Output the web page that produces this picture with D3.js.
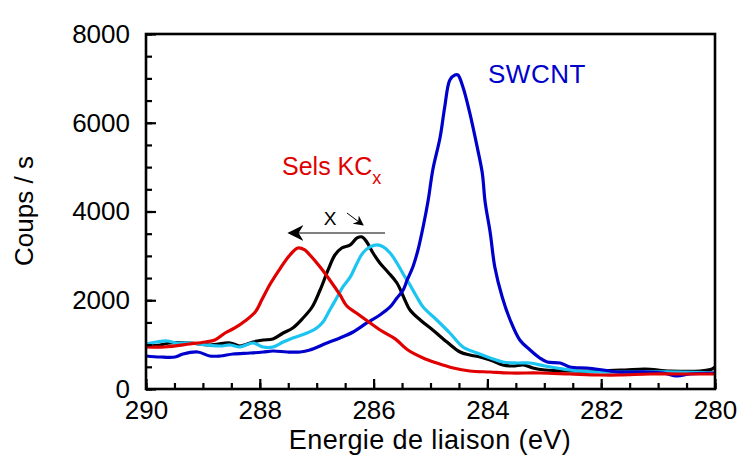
<!DOCTYPE html>
<html>
<head>
<meta charset="utf-8">
<script src="https://cdn.jsdelivr.net/npm/d3@7"></script>
<style>
  html, body { margin: 0; padding: 0; background: #fff; }
  svg { display: block; font-family: Arial, "Liberation Sans", sans-serif; }
</style>
</head>
<body>
<svg id="chart" width="744" height="456"></svg>
<script>
// ---- data (binding energy in eV, counts/s) ----
const xTicks = [290, 288, 286, 284, 282, 280];
const yTicks = [0, 2000, 4000, 6000, 8000];

const swcntE = [290.00,289.75,289.49,289.35,289.09,288.88,288.70,288.47,288.17,287.94,287.77,287.52,287.29,287.12,286.82,286.59,286.36,286.12,285.89,285.71,285.59,285.48,285.41,285.31,285.22,285.13,285.04,284.96,284.83,284.75,284.66,284.57,284.52,284.43,284.31,284.18,284.09,284.04,283.95,283.87,283.74,283.60,283.43,283.25,283.08,282.95,282.72,282.55,282.25,281.97,281.72,281.20,280.91,280.67,280.44,280.00];
const swcntC = [744,721,721,789,834,744,744,789,811,834,856,834,834,879,1037,1150,1285,1488,1668,1848,2051,2231,2457,2750,3133,3651,4260,4936,5680,6356,6965,7078,7078,6807,6221,5455,4869,4215,3516,2750,2074,1555,1104,879,699,609,586,496,473,428,383,383,361,293,338,361];

const cyanE = [290.00,289.81,289.63,289.46,289.23,288.93,288.70,288.52,288.35,288.12,287.94,287.77,287.59,287.42,287.17,287.00,286.89,286.77,286.64,286.54,286.41,286.29,286.19,286.06,285.94,285.83,285.71,285.59,285.48,285.36,285.24,285.13,284.89,284.66,284.43,284.18,283.95,283.73,283.48,283.25,282.99,282.55,282.02,281.32,280.62,280.00];
const cyanC = [1014,1059,1082,1037,1037,992,969,992,947,1037,947,947,1059,1150,1262,1375,1510,1781,2074,2299,2525,2840,3065,3201,3246,3201,3065,2840,2592,2344,2074,1848,1555,1262,947,811,699,609,586,586,518,428,383,383,383,361];

const blackE = [290.00,289.75,289.58,289.23,288.88,288.52,288.35,288.12,287.94,287.77,287.59,287.42,287.24,287.08,286.94,286.80,286.68,286.56,286.41,286.29,286.20,286.12,286.01,285.89,285.75,285.59,285.45,285.36,285.18,284.96,284.71,284.48,284.31,284.13,283.95,283.73,283.55,283.37,283.20,282.99,282.55,282.02,281.58,281.23,280.79,280.26,280.05,280.00];
const blackC = [969,992,1037,1037,992,1037,969,1059,1104,1127,1262,1375,1600,1848,2231,2682,3020,3178,3246,3404,3426,3313,3065,2840,2637,2389,2006,1781,1555,1330,1059,834,766,721,654,541,518,541,473,428,406,406,428,451,406,406,451,496];

const redE = [290.00,289.67,289.23,288.96,288.79,288.61,288.44,288.26,288.08,287.96,287.82,287.64,287.47,287.33,287.21,287.12,286.94,286.77,286.59,286.47,286.29,286.06,285.83,285.62,285.41,285.13,284.89,284.60,284.31,283.95,283.60,283.08,282.55,282.02,281.67,281.14,280.62,280.00];
const redC = [947,947,1014,1059,1104,1262,1375,1533,1735,2020,2360,2720,3020,3178,3133,3020,2750,2457,2119,1870,1700,1488,1285,1130,890,699,586,473,406,383,361,361,338,316,316,338,338,338];

// ---- layout ----
const svg = d3.select("#chart");
const L = 146, R = 715, T = 34, B = 389;
const x = d3.scaleLinear().domain([290, 280]).range([L, R]);
const y = d3.scaleLinear().domain([0, 8000]).range([B, T]);

const line = d3.line().x(d => x(d[0])).y(d => y(d[1])).curve(d3.curveCatmullRom.alpha(0.5));
const zip = (a, b) => a.map((v, i) => [v, b[i]]);

const series = [
  { data: zip(blackE, blackC), color: "#000000" },
  { data: zip(cyanE, cyanC), color: "#1cc4f2" },
  { data: zip(swcntE, swcntC), color: "#0000cc" },
  { data: zip(redE, redC), color: "#e10000" }
];

const defs = svg.append("defs");
defs.append("clipPath").attr("id", "clip")
  .append("rect").attr("x", L).attr("y", T).attr("width", R - L).attr("height", B - T);

const g = svg.append("g").attr("clip-path", "url(#clip)");
series.forEach(s => {
  g.append("path").attr("d", line(s.data))
    .attr("fill", "none").attr("stroke", s.color)
    .attr("stroke-width", 3.2).attr("stroke-linejoin", "round").attr("stroke-linecap", "round");
});

// ---- axes (ticks inside) ----
const xMinor = d3.range(290, 279.99, -0.5);
const yMinor = d3.range(0, 8001, 500);

const xAxisMinor = d3.axisBottom(x).tickValues(xMinor).tickSize(-6).tickFormat("");
const xAxisMajor = d3.axisBottom(x).tickValues(xTicks).tickSize(-10).tickPadding(12).tickFormat(d3.format("d"));
const yAxisMinor = d3.axisLeft(y).tickValues(yMinor).tickSize(-6).tickFormat("");
const yAxisMajor = d3.axisLeft(y).tickValues(yTicks).tickSize(-10).tickPadding(16).tickFormat(d3.format("d"));

function styleAxis(sel) {
  sel.select(".domain").remove();
  sel.selectAll("line").attr("stroke", "#000").attr("stroke-width", 2.2);
  sel.selectAll("text").attr("fill", "#000").attr("font-size", 26)
     .attr("font-family", "Arial, 'Liberation Sans', sans-serif");
}
svg.append("g").attr("transform", `translate(0,${B})`).call(xAxisMinor).call(styleAxis);
svg.append("g").attr("transform", `translate(0,${B})`).call(xAxisMajor).call(styleAxis);
svg.append("g").attr("transform", `translate(${L},0)`).call(yAxisMinor).call(styleAxis);
svg.append("g").attr("transform", `translate(${L},0)`).call(yAxisMajor).call(styleAxis);

// frame
svg.append("rect").attr("x", L).attr("y", T).attr("width", R - L).attr("height", B - T)
  .attr("fill", "none").attr("stroke", "#000").attr("stroke-width", 2.6);

// axis titles
svg.append("text").attr("x", 430).attr("y", 449).attr("text-anchor", "middle")
  .attr("font-size", 27).attr("letter-spacing", 0.4).attr("fill", "#000").text("Energie de liaison (eV)");
svg.append("text").attr("transform", "translate(33,211) rotate(-90)").attr("text-anchor", "middle")
  .attr("font-size", 26).attr("fill", "#000").text("Coups / s");

// annotations
svg.append("text").attr("x", 488).attr("y", 83).attr("font-size", 26).attr("letter-spacing", 0.5).attr("fill", "#0000cc").text("SWCNT");
const sels = svg.append("text").attr("x", 282).attr("y", 175).attr("font-size", 25).attr("fill", "#e10000");
sels.append("tspan").text("Sels KC");
sels.append("tspan").attr("font-size", 18).attr("dy", 9).text("x");

// arrow markers
defs.append("marker").attr("id", "ah").attr("viewBox", "0 0 10 10").attr("refX", 9).attr("refY", 5)
  .attr("markerWidth", 10).attr("markerHeight", 10).attr("markerUnits", "userSpaceOnUse").attr("orient", "auto")
  .append("path").attr("d", "M0,0 L10,5 L0,10 L3,5 Z").attr("fill", "#000");
defs.append("marker").attr("id", "ah2").attr("viewBox", "0 0 10 10").attr("refX", 9).attr("refY", 5)
  .attr("markerWidth", 16).attr("markerHeight", 16).attr("markerUnits", "userSpaceOnUse").attr("orient", "auto")
  .append("path").attr("d", "M0,0 L10,5 L0,10 L3,5 Z").attr("fill", "#000");

svg.append("line").attr("x1", 385).attr("y1", 233).attr("x2", 289).attr("y2", 233)
  .attr("stroke", "#000").attr("stroke-width", 1).attr("marker-end", "url(#ah2)");
svg.append("text").attr("x", 330).attr("y", 225).attr("text-anchor", "middle")
  .attr("font-size", 19).attr("fill", "#000").text("X");
svg.append("line").attr("x1", 347).attr("y1", 213).attr("x2", 363).attr("y2", 225)
  .attr("stroke", "#000").attr("stroke-width", 1).attr("marker-end", "url(#ah)");
</script>
</body>
</html>
